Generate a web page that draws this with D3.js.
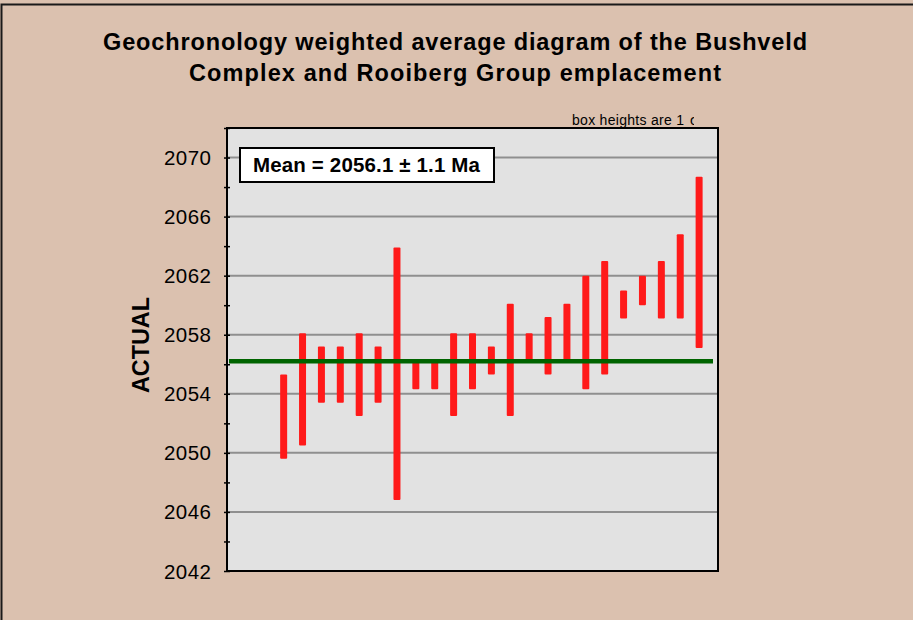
<!DOCTYPE html>
<html>
<head>
<meta charset="utf-8">
<script src="https://cdn.jsdelivr.net/npm/d3@7/dist/d3.min.js"></script>
<style>
  html, body { margin: 0; padding: 0; background: #dbc1af; }
  svg { display: block; }
</style>
</head>
<body>
<script>
// ---- data ----
const sampleIndex = d3.range(1, 24);
const lows  = [2049.6, 2050.5, 2053.4, 2053.4, 2052.5, 2053.4, 2046.8, 2054.3, 2054.3, 2052.5, 2054.3, 2055.3,
               2052.5, 2056.2, 2055.3, 2056.2, 2054.3, 2055.3, 2059.1, 2060.0, 2059.1, 2059.1, 2057.1];
const highs = [2055.3, 2058.1, 2057.2, 2057.2, 2058.1, 2057.2, 2063.9, 2056.3, 2056.3, 2058.1, 2058.1, 2057.2,
               2060.1, 2058.1, 2059.2, 2060.1, 2062.0, 2063.0, 2061.0, 2062.0, 2063.0, 2064.8, 2068.7];
const meanValue = 2056.2;
const yTicks = [2042, 2046, 2050, 2054, 2058, 2062, 2066, 2070];
const titleLines = ["Geochronology weighted average diagram of the Bushveld", "Complex and Rooiberg Group emplacement"];
const meanLabel = "Mean = 2056.1 \u00B1 1.1 Ma";
const noteLabel = "box heights are 1";
const noteSymbol = "\u03C3";
const yLabel = "ACTUAL";

// ---- layout ----
const W = 913, H = 620;
const plot = { left: 227, right: 718, top: 128, bottom: 571 };
const FONT = "Liberation Sans, Arial, sans-serif";

const svg = d3.select("body").append("svg").attr("width", W).attr("height", H);

svg.append("rect").attr("width", W).attr("height", H).attr("fill", "#dbc1af");
// outer frame (extends past the window)
svg.append("rect").attr("x", 1.5).attr("y", 4.5).attr("width", W + 50).attr("height", H + 50)
  .attr("fill", "none").attr("stroke", "#1a1a1a").attr("stroke-width", 2);

const x = d3.scaleLinear().domain([-2, 24]).range([plot.left, plot.right]);
const y = d3.scaleLinear().domain([2042, 2072]).range([plot.bottom, plot.top]);

// title
const titleLens = [704, 532];
titleLines.forEach((t, i) => {
  svg.append("text").attr("x", 455).attr("y", 49.5 + i * 31)
    .attr("text-anchor", "middle")
    .attr("font-family", FONT).attr("font-weight", "bold")
    .attr("font-size", 23.5).attr("fill", "#000")
    .attr("textLength", titleLens[i]).attr("lengthAdjust", "spacing")
    .text(t);
});

// note
const clip = svg.append("defs").append("clipPath").attr("id", "noteclip");
clip.append("rect").attr("x", 560).attr("y", 105).attr("width", 134).attr("height", 22);
svg.append("text").attr("x", 572).attr("y", 125)
  .attr("font-family", FONT).attr("font-size", 14)
  .attr("textLength", 112).attr("lengthAdjust", "spacing")
  .attr("fill", "#000").text(noteLabel);
svg.append("text").attr("x", 690).attr("y", 125)
  .attr("clip-path", "url(#noteclip)")
  .attr("font-family", FONT).attr("font-size", 14)
  .attr("fill", "#000").text(noteSymbol);

// plot background
svg.append("rect").attr("x", plot.left).attr("y", plot.top)
  .attr("width", plot.right - plot.left).attr("height", plot.bottom - plot.top)
  .attr("fill", "#e2e2e2");

// gridlines
svg.append("g").selectAll("line").data(yTicks.filter(v => v > 2042)).join("line")
  .attr("x1", plot.left).attr("x2", plot.right)
  .attr("y1", d => y(d)).attr("y2", d => y(d))
  .attr("stroke", "#8f8f8f").attr("stroke-width", 2);

// y axis
const yAxis = d3.axisLeft(y).tickValues(d3.range(2042, 2073, 2)).tickSize(4).tickFormat("");
const ag = svg.append("g").attr("transform", `translate(${plot.left},0)`).call(yAxis);
ag.select(".domain").remove();
ag.selectAll(".tick line").attr("stroke", "#000").attr("stroke-width", 1.5)
  .attr("x1", -3).attr("x2", 3);

svg.append("g").selectAll("text").data(yTicks).join("text")
  .attr("x", 211).attr("y", d => y(d) + 7.5)
  .attr("text-anchor", "end")
  .attr("font-family", FONT).attr("font-size", 20.5)
  .attr("textLength", 47).attr("lengthAdjust", "spacing")
  .attr("fill", "#000").text(d => d);

// y label
svg.append("text").attr("transform", "translate(149,345) rotate(-90)")
  .attr("text-anchor", "middle")
  .attr("font-family", FONT).attr("font-weight", "bold")
  .attr("font-size", 23.5).attr("fill", "#000")
  .attr("textLength", 96).attr("lengthAdjust", "spacing")
  .text(yLabel);

// bars
svg.append("g").selectAll("rect").data(sampleIndex).join("rect")
  .attr("x", (d) => x(d) - 3.5)
  .attr("width", 7)
  .attr("y", (d, i) => y(highs[i]))
  .attr("height", (d, i) => y(lows[i]) - y(highs[i]))
  .attr("rx", 1)
  .attr("fill", "#ff1a1a");

// mean line
svg.append("line").attr("x1", plot.left + 2).attr("x2", plot.right - 5)
  .attr("y1", y(meanValue)).attr("y2", y(meanValue))
  .attr("stroke", "#006400").attr("stroke-width", 4.5);

// plot frame
svg.append("rect").attr("x", plot.left).attr("y", plot.top)
  .attr("width", plot.right - plot.left).attr("height", plot.bottom - plot.top)
  .attr("fill", "none").attr("stroke", "#000").attr("stroke-width", 2);

// mean label box
const lb = svg.append("g");
lb.append("rect").attr("x", 240).attr("y", 148).attr("width", 254).attr("height", 34)
  .attr("fill", "#fff").attr("stroke", "#000").attr("stroke-width", 2);
lb.append("text").attr("x", 366.5).attr("y", 172).attr("text-anchor", "middle")
  .attr("font-family", FONT).attr("font-weight", "bold")
  .attr("font-size", 20.5).attr("fill", "#000")
  .attr("textLength", 227).attr("lengthAdjust", "spacing")
  .text(meanLabel);
</script>
</body>
</html>
